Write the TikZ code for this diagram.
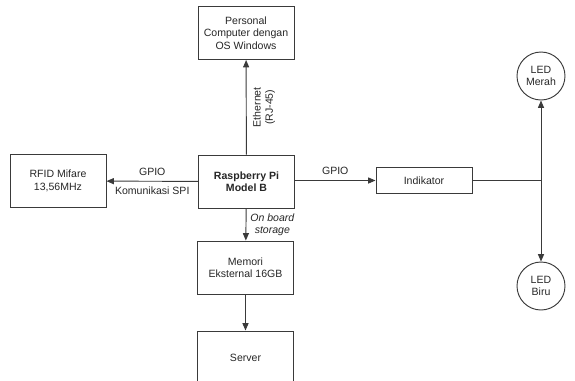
\documentclass[tikz,border=0pt]{standalone}
\usepackage{fontspec}
\setmainfont{Liberation Sans}
\usetikzlibrary{arrows.meta}
\definecolor{garis}{HTML}{3A3A3A}
\tikzset{
  kotak/.style={draw=garis, line width=0.8pt, minimum width=2.88cm, minimum height=1.59cm, align=center, inner sep=1pt},
  bulat/.style={draw=garis, line width=0.8pt, circle, minimum size=1.44cm, align=center, inner sep=0pt},
  panah/.style={draw=garis, line width=0.8pt, -{Triangle[length=2.2mm,width=1.8mm]}},
  garisan/.style={draw=garis, line width=0.8pt}
}
\begin{document}
\begin{tikzpicture}[x=0.03cm, y=-0.03cm, font=\fontsize{9}{10.5}\selectfont, text=black!85]
    \useasboundingbox (0,0) rectangle (575,380);
    % blok utama
    \node[kotak] (pc) at (246, 33) {Personal\\Computer dengan\\OS Windows};
    \node[kotak] (rpi) at (246.5, 181.5) {\textbf{Raspberry Pi}\\\textbf{Model B}};
    \node[kotak] (rfid) at (58, 181) {RFID Mifare\\13,56MHz};
    \node[kotak] (mem) at (245.5, 267.5) {Memori\\Eksternal 16GB};
    \begin{scope}
      \clip (0,0) rectangle (575,380);
      \node[kotak] (srv) at (245.5, 357.5) {Server};
    \end{scope}
    \node[kotak, minimum height=0.78cm] (ind) at (424, 180.5) {Indikator};
    \node[bulat] (merah) at (541, 76) {LED\\Merah};
    \node[bulat] (biru) at (541, 286) {LED\\Biru};
    \coordinate (cab) at (541, 180.5);
    % koneksi
    \draw[panah] (rpi) -- (pc)
      node[midway, rotate=90, anchor=north, align=center, yshift=-2pt] {Ethernet\\(RJ-45)};
    \draw[panah] (rpi) -- (rfid)
      node[midway, above, yshift=1pt] {GPIO}
      node[midway, below, yshift=-1pt] {Komunikasi SPI};
    \draw[panah] (rpi) -- (mem)
      node[midway, right, align=center, font=\fontsize{9}{10.5}\selectfont\itshape] {On board\\storage};
    \draw[panah] (mem) -- (srv);
    \draw[panah] (rpi.east |- ind.west) -- (ind)
      node[midway, above, yshift=1pt] {GPIO};
    \draw[garisan] (ind) -- (cab);
    \draw[panah] (cab) -- (merah);
    \draw[panah] (cab) -- (biru);
  \end{tikzpicture}
\end{document}
